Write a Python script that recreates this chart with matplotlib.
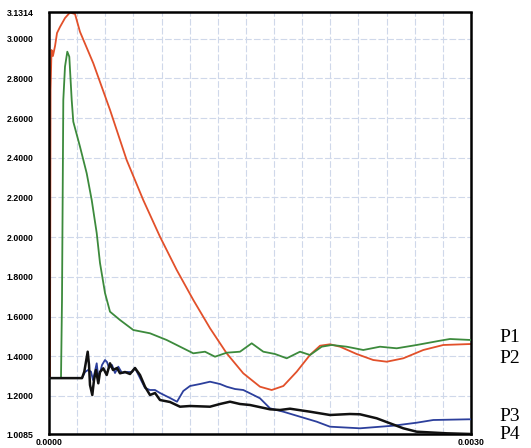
import matplotlib
matplotlib.use("Agg")
import matplotlib.pyplot as plt
import matplotlib.transforms as mtransforms
import numpy as np

# ---- data (time in s, value) ----
p2_t = [0.0, 0.000007, 0.000011, 0.000018, 0.000028, 0.000043, 0.000057, 0.000078,
        0.000114, 0.000149, 0.000185, 0.000220, 0.000315, 0.000434, 0.000552, 0.000670,
        0.000789, 0.000908, 0.001026, 0.001145, 0.001263, 0.001381, 0.001500, 0.001583,
        0.001666, 0.001761, 0.001855, 0.001927, 0.001998, 0.002069, 0.002187, 0.002305,
        0.002401, 0.002519, 0.002661, 0.002803, 0.003000]
p2_v = [1.2905, 1.2905, 2.7411, 2.9425, 2.9123, 2.9627, 3.0281, 3.0584,
        3.1037, 3.1314, 3.1238, 3.0347, 2.8755, 2.6403, 2.3885, 2.1870,
        2.0022, 1.8345, 1.6834, 1.5409, 1.4149, 1.3142, 1.2467, 1.2301,
        1.2503, 1.3223, 1.4064, 1.4532, 1.4603, 1.4482, 1.4114, 1.3812,
        1.3726, 1.3898, 1.4316, 1.4568, 1.4618]

p1_t = [0.0, 0.0000853, 0.0000924, 0.0001017, 0.0001137, 0.0001301, 0.0001443, 0.0001614,
        0.0001727, 0.0002204, 0.0002680, 0.0003036, 0.0003391, 0.0003626, 0.0003981,
        0.0004337, 0.0005047, 0.0005993, 0.0007180, 0.0008367, 0.0009547, 0.0010258,
        0.0011090, 0.0011801, 0.0012633, 0.0013578, 0.0014410, 0.0015235, 0.0016066,
        0.0016898, 0.0017844, 0.0018555, 0.0019386, 0.0020097, 0.0021163, 0.0022343,
        0.0023531, 0.0024718, 0.0026140, 0.0027796, 0.0028507, 0.0030000]
p1_v = [1.2905, 1.2905, 1.6834, 2.6907, 2.8584, 2.9340, 2.9088, 2.6907,
        2.5814, 2.4555, 2.3215, 2.1870, 2.0208, 1.8697, 1.7187,
        1.6245, 1.5827, 1.5323, 1.5157, 1.4819, 1.4401, 1.4149,
        1.4230, 1.3978, 1.4180, 1.4230, 1.4653, 1.4230, 1.4114,
        1.3898, 1.4230, 1.4064, 1.4482, 1.4568, 1.4482, 1.4316,
        1.4482, 1.4401, 1.4568, 1.4784, 1.4870, 1.4819]

p4_t = [0.0, 0.0002346, 0.0002509, 0.0002751, 0.0002844, 0.0002915, 0.0003078, 0.0003199,
        0.0003341, 0.0003505, 0.0003626, 0.0003860, 0.0004102, 0.0004337, 0.0004550,
        0.0004834, 0.0005047, 0.0005403, 0.0005758, 0.0006114, 0.0006469, 0.0006825,
        0.0007180, 0.0007536, 0.0007891, 0.0008602, 0.0009313, 0.0010024, 0.0011445,
        0.0012156, 0.0012867, 0.0013578, 0.0014289, 0.0015711, 0.0016422, 0.0017133,
        0.0018555, 0.0019976, 0.0021398, 0.0022109, 0.0023296, 0.0024242, 0.0025187,
        0.0026140, 0.0028273, 0.0030000]
p4_v = [1.2900, 1.2900, 1.3223, 1.4230, 1.3560, 1.2553, 1.2049, 1.2805,
        1.3308, 1.2639, 1.3208, 1.3394, 1.3057, 1.3646, 1.3308,
        1.3409, 1.3142, 1.3208, 1.3107, 1.3409, 1.3057, 1.2467,
        1.2049, 1.2150, 1.1797, 1.1697, 1.1460, 1.1495, 1.1460,
        1.1596, 1.1712, 1.1596, 1.1546, 1.1329, 1.1294, 1.1359,
        1.1208, 1.1042, 1.1092, 1.1077, 1.0876, 1.0624, 1.0372,
        1.0201, 1.0120, 1.0085]

p3_t = [0.0, 0.0002346, 0.0002559, 0.0002773, 0.0002986, 0.0003128, 0.0003391, 0.0003483,
        0.0003626, 0.0003768, 0.0003981, 0.0004123, 0.0004265, 0.0004479, 0.0004692,
        0.0004927, 0.0005190, 0.0005545, 0.0005900, 0.0006114, 0.0006469, 0.0006825,
        0.0007180, 0.0007536, 0.0007891, 0.0008602, 0.0009100, 0.0009547, 0.0010024,
        0.0010735, 0.0011445, 0.0012156, 0.0012633, 0.0013223, 0.0013813, 0.0014289,
        0.0015000, 0.0015711, 0.0016656, 0.0017844, 0.0019031, 0.0019976, 0.0022109,
        0.0024476, 0.0026140, 0.0027320, 0.0029808, 0.0030000]
p3_v = [1.2900, 1.2900, 1.3208, 1.3308, 1.3223, 1.2805, 1.3646, 1.3057,
        1.3157, 1.3560, 1.3812, 1.3711, 1.3409, 1.3560, 1.3157,
        1.3475, 1.3157, 1.3208, 1.3208, 1.3409, 1.2905, 1.2402,
        1.2301, 1.2301, 1.2150, 1.1898, 1.1712, 1.2251, 1.2503,
        1.2603, 1.2719, 1.2603, 1.2467, 1.2351, 1.2301, 1.2135,
        1.1883, 1.1379, 1.1208, 1.0956, 1.0705, 1.0453, 1.0372,
        1.0503, 1.0654, 1.0790, 1.0825, 1.0825]

series_names = ["P1", "P2", "P3", "P4"]
label_levels = [1.497, 1.389, 1.097, 1.0035]

y_min, y_max = 1.0085, 3.1314
y_ticks = [1.0085, 1.2, 1.4, 1.6, 1.8, 2.0, 2.2, 2.4, 2.6, 2.8, 3.0, 3.1314]
x_ticks = [0.0, 0.003]

# ---- figure ----
fig = plt.figure(figsize=(5.31, 4.48), dpi=100)
ax = fig.add_axes([49/531, 1 - 434/448, 422/531, 421.5/448])

grid_c = "#cfd8ea"
for gx in np.arange(1, 15) * 0.0002:
    ax.axvline(gx, color=grid_c, lw=0.8, ls=(0, (6, 2)), zorder=0)
for gy in y_ticks[1:-1]:
    ax.axhline(gy, color=grid_c, lw=0.8, ls=(0, (6, 2)), zorder=0)

ax.plot(p1_t, p1_v, color="#3c8a3c", lw=1.3, zorder=3)
ax.plot(p2_t, p2_v, color="#e2502a", lw=1.3, zorder=2)
ax.plot(p3_t, p3_v, color="#2c3f9c", lw=1.3, zorder=4)
ax.plot(p4_t, p4_v, color="#111111", lw=1.8, zorder=5)

ax.set_xlim(0, 0.003)
ax.set_ylim(y_min, y_max)
ax.set_yticks(y_ticks)
ax.set_yticklabels([f"{v:.4f}" for v in y_ticks], fontsize=6.3,
                   fontweight="bold", family="Liberation Sans")
ax.set_xticks(x_ticks)
ax.set_xticklabels([f"{v:.4f}" for v in x_ticks], fontsize=6.3,
                   fontweight="bold", family="Liberation Sans")
ax.tick_params(axis="y", length=0, pad=11)
ax.tick_params(axis="x", length=0, pad=3)

for s in ax.spines.values():
    s.set_linewidth(1.8)
    s.set_color("black")

trans = mtransforms.blended_transform_factory(ax.transAxes, ax.transData)
for name, lv in zip(series_names, label_levels):
    ax.text(1.068, lv, name, transform=trans, ha="left", va="center",
            fontsize=14, family="Liberation Serif", clip_on=False)

fig.savefig("out.png", dpi=100)
